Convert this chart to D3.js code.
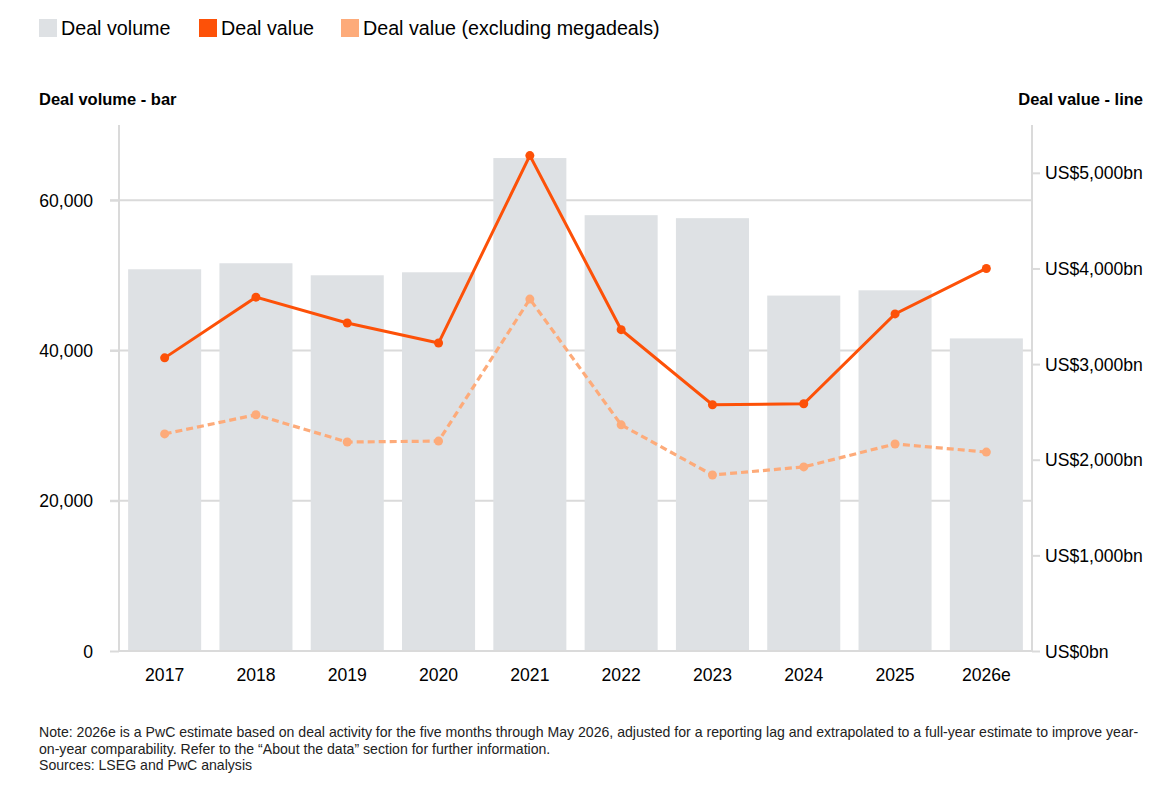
<!DOCTYPE html>
<html>
<head>
<meta charset="utf-8">
<script src="https://cdn.jsdelivr.net/npm/d3@7"></script>
<style>
  body { margin: 0; background: #fff; }
  svg text { font-family: "Liberation Sans", Arial, sans-serif; fill: #000; }
</style>
</head>
<body>
<svg id="chart" width="1167" height="790"></svg>
<script>
// data
const years = ["2017", "2018", "2019", "2020", "2021", "2022", "2023", "2024", "2025", "2026e"];
const dealVolume = [50800, 51600, 50000, 50400, 65600, 58000, 57600, 47300, 48000, 41600];
const dealValue = [3065, 3700, 3430, 3220, 5180, 3360, 2575, 2585, 3525, 4000];
const dealValueExMega = [2270, 2470, 2185, 2195, 3680, 2365, 1840, 1925, 2165, 2080];
const volumeTicks = [0, 20000, 40000, 60000];
const valueTicks = [0, 1000, 2000, 3000, 4000, 5000];
const legendItems = ["Deal volume", "Deal value", "Deal value (excluding megadeals)"];
const noteLines = [
    "Note: 2026e is a PwC estimate based on deal activity for the five months through May 2026, adjusted for a reporting lag and extrapolated to a full-year estimate to improve year-",
    "on-year comparability. Refer to the \u201cAbout the data\u201d section for further information.",
    "Sources: LSEG and PwC analysis"
];

const svg = d3.select("#chart");
const margin = { left: 119, right: 1032, top: 125, bottom: 651 };

const colBar = "#dee1e4";
const colValue = "#fd5108";
const colEx = "#fdab7a";
const colGrid = "#dadada";

const x = d3.scaleBand()
    .domain(years)
    .range([margin.left, margin.right])
    .paddingInner(0.2)
    .paddingOuter(0.1);

const yLeft = d3.scaleLinear().domain([0, 70000]).range([margin.bottom, margin.top]);
const yRight = d3.scaleLinear().domain([0, 5500]).range([margin.bottom, margin.top]);

// gridlines (behind bars)
svg.append("g")
    .selectAll("line")
    .data(volumeTicks.filter(d => d > 0))
    .enter().append("line")
    .attr("x1", margin.left - 9)
    .attr("x2", margin.right)
    .attr("y1", d => yLeft(d))
    .attr("y2", d => yLeft(d))
    .attr("stroke", colGrid)
    .attr("stroke-width", 2);

// bars
svg.append("g")
    .selectAll("rect")
    .data(dealVolume)
    .enter().append("rect")
    .attr("x", (d, i) => x(years[i]))
    .attr("width", x.bandwidth())
    .attr("y", d => yLeft(d))
    .attr("height", d => yLeft(0) - yLeft(d))
    .attr("fill", colBar);

// left axis
const leftAxis = svg.append("g")
    .attr("transform", `translate(${margin.left},0)`)
    .call(d3.axisLeft(yLeft).tickValues(volumeTicks).tickSize(9).tickPadding(17).tickFormat(d3.format(",")));
leftAxis.select(".domain").attr("stroke", colGrid).attr("stroke-width", 2).attr("d", `M0,${margin.top}V${margin.bottom}`);
leftAxis.selectAll(".tick line").attr("stroke", colGrid).attr("stroke-width", 2);
leftAxis.selectAll(".tick text").style("font-size", "17.6px").attr("dy", "0.35em");

// right axis
const rightAxis = svg.append("g")
    .attr("transform", `translate(${margin.right},0)`)
    .call(d3.axisRight(yRight).tickValues(valueTicks).tickSize(8).tickPadding(5)
        .tickFormat(d => "US$" + d3.format(",")(d) + "bn"));
rightAxis.select(".domain").attr("stroke", colGrid).attr("stroke-width", 2).attr("d", `M0,${margin.top}V${margin.bottom}`);
rightAxis.selectAll(".tick line").attr("stroke", colGrid).attr("stroke-width", 2);
rightAxis.selectAll(".tick text").style("font-size", "17.6px").attr("dy", "0.35em");

// baseline
svg.append("line")
    .attr("x1", margin.left).attr("x2", margin.right)
    .attr("y1", yLeft(0)).attr("y2", yLeft(0))
    .attr("stroke", colGrid).attr("stroke-width", 2);

// x axis labels
const bottomAxis = svg.append("g")
    .attr("transform", `translate(0,${margin.bottom})`)
    .call(d3.axisBottom(x).tickSize(0).tickPadding(18));
bottomAxis.select(".domain").remove();
bottomAxis.selectAll(".tick text").style("font-size", "17.6px");

// lines
const cx = i => x(years[i]) + x.bandwidth() / 2;

const valueLine = d3.line().x((d, i) => cx(i)).y(d => yRight(d));
svg.append("path")
    .datum(dealValueExMega)
    .attr("d", valueLine)
    .attr("fill", "none")
    .attr("stroke", colEx)
    .attr("stroke-width", 3.2)
    .attr("stroke-dasharray", "7,4");
svg.append("g").selectAll("circle")
    .data(dealValueExMega)
    .enter().append("circle")
    .attr("cx", (d, i) => cx(i))
    .attr("cy", d => yRight(d))
    .attr("r", 4.5)
    .attr("fill", colEx);

svg.append("path")
    .datum(dealValue)
    .attr("d", valueLine)
    .attr("fill", "none")
    .attr("stroke", colValue)
    .attr("stroke-width", 3);
svg.append("g").selectAll("circle")
    .data(dealValue)
    .enter().append("circle")
    .attr("cx", (d, i) => cx(i))
    .attr("cy", d => yRight(d))
    .attr("r", 4.5)
    .attr("fill", colValue);

// axis titles
svg.append("text")
    .attr("x", 39).attr("y", 105)
    .style("font-size", "16.5px").style("font-weight", "bold")
    .text("Deal volume - bar");
svg.append("text")
    .attr("x", 1143).attr("y", 105)
    .attr("text-anchor", "end")
    .style("font-size", "16.5px").style("font-weight", "bold")
    .text("Deal value - line");

// legend
const legendX = [39, 199, 341];
const legendCol = [colBar, colValue, colEx];
const legend = svg.append("g");
legendItems.forEach((label, i) => {
    legend.append("rect")
        .attr("x", legendX[i]).attr("y", 19)
        .attr("width", 18).attr("height", 18)
        .attr("fill", legendCol[i]);
    legend.append("text")
        .attr("x", legendX[i] + 22).attr("y", 35)
        .style("font-size", "19.7px")
        .text(label);
});

// notes
svg.append("g").selectAll("text")
    .data(noteLines)
    .enter().append("text")
    .attr("x", 39)
    .attr("y", (d, i) => 737 + i * 16.5)
    .style("font-size", "14.1px")
    .style("fill", "#222")
    .text(d => d);
</script>
</body>
</html>
